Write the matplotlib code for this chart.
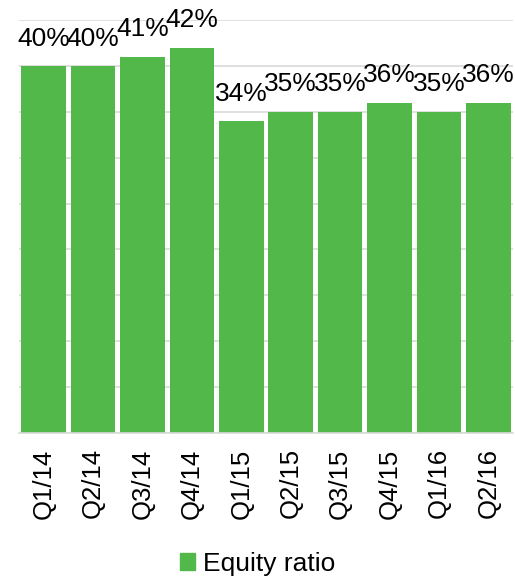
import matplotlib

matplotlib.use("Agg")
import matplotlib.pyplot as plt
from matplotlib.patches import Patch

quarters = ["Q1/14", "Q2/14", "Q3/14", "Q4/14", "Q1/15", "Q2/15", "Q3/15", "Q4/15", "Q1/16", "Q2/16"]
equity_ratio = [40, 40, 41, 42, 34, 35, 35, 36, 35, 36]
labels = [f"{v}%" for v in equity_ratio]

GREEN = "#53B84A"
plt.rcParams["font.family"] = ["Liberation Sans", "DejaVu Sans"]

fig = plt.figure(figsize=(5.15, 5.78), dpi=100)
ax = fig.add_axes([19 / 515, 1 - 433 / 578, 494 / 515, 413 / 578])

x = range(len(quarters))
bars = ax.bar(x, equity_ratio, width=0.9, color=GREEN, zorder=2)
ax.bar_label(bars, labels=labels, padding=11, fontsize=19)

ax.set_xlim(-0.5, len(quarters) - 0.5)
ax.set_ylim(0, 45)
ax.set_yticks(range(0, 46, 5))
ax.yaxis.grid(True, color="#d9d9d9", linewidth=1.2, zorder=0)
ax.tick_params(axis="y", left=False, labelleft=False)
ax.set_xticks(list(x))
ax.set_xticklabels(quarters, rotation=90, fontsize=18.5)
ax.tick_params(axis="x", length=0, pad=11)
for side in ("top", "right", "left"):
    ax.spines[side].set_visible(False)
ax.spines["bottom"].set_color("#d9d9d9")
ax.spines["bottom"].set_linewidth(1.2)

fig.legend(handles=[Patch(color=GREEN, label="Equity ratio")], loc="lower center",
           bbox_to_anchor=(0.5, -0.037), frameon=False, fontsize=19,
           handlelength=0.6, handleheight=0.6, handletextpad=0.3)

fig.savefig("out.png", dpi=100)
